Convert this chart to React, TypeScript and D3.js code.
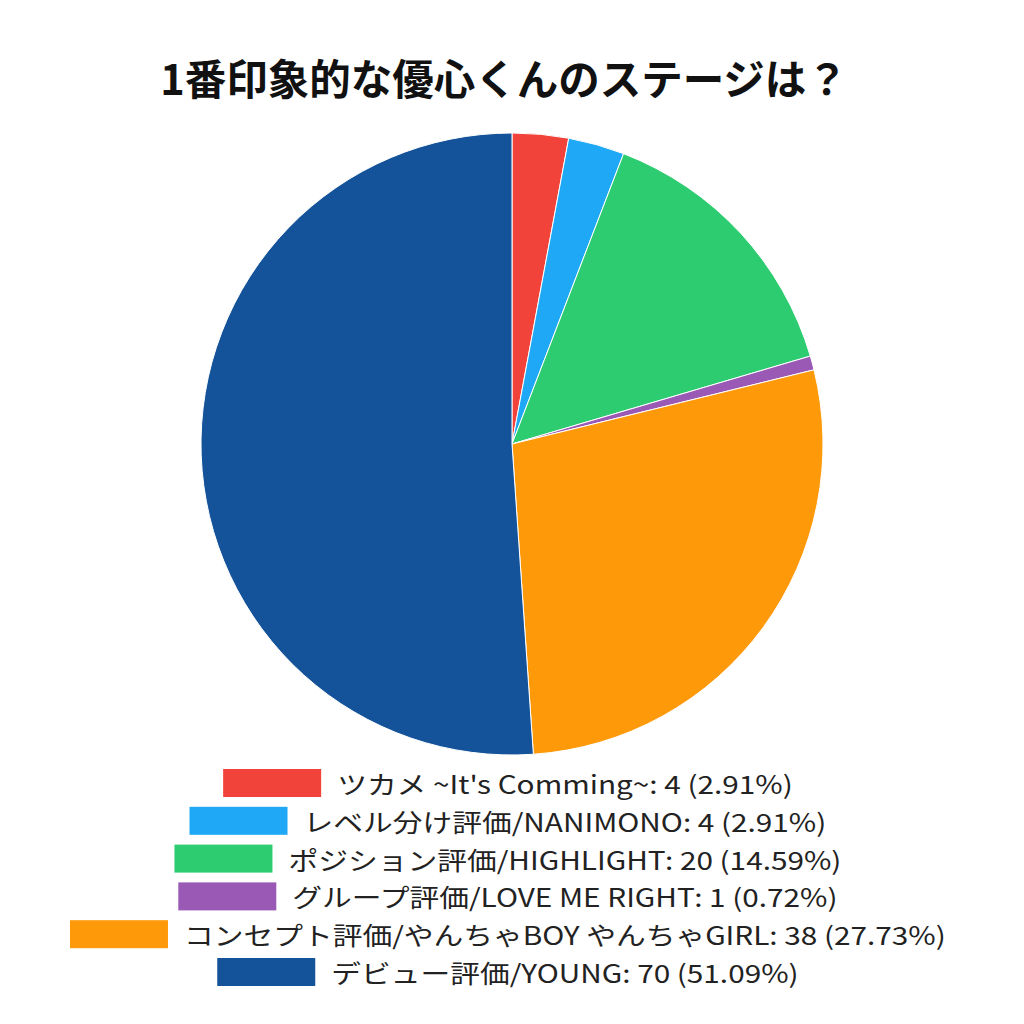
import React, { useRef, useEffect } from 'react';
import * as d3 from 'd3';

const categories = [
  'ツカメ ~It\'s Comming~',
  'レベル分け評価/NANIMONO',
  'ポジション評価/HIGHLIGHT',
  'グループ評価/LOVE ME RIGHT',
  'コンセプト評価/やんちゃBOY やんちゃGIRL',
  'デビュー評価/YOUNG',
];
const counts = [4, 4, 20, 1, 38, 70];
const percents = ['2.91%', '2.91%', '14.59%', '0.72%', '27.73%', '51.09%'];
const colors = ['#f2433a', '#1ea8f6', '#2ecc71', '#9b59b6', '#fe9a0a', '#14539a'];
const title = '1番印象的な優心くんのステージは？';

export default function App() {
  const svgRef = useRef<SVGSVGElement>(null);

  useEffect(() => {
    if (!svgRef.current) return;
    const svg = d3.select(svgRef.current);
    svg.selectAll('*').remove();

    const width = 1024;
    const cx = 512;
    const cy = 444;
    const radius = 311;
    const font = '"Noto Sans CJK JP", "Noto Sans", sans-serif';

    svg.append('rect').attr('width', width).attr('height', 1024).attr('fill', '#fff');

    // Title
    svg.append('text')
      .attr('x', 504)
      .attr('y', 95)
      .attr('text-anchor', 'middle')
      .style('font-family', font)
      .style('font-size', '41.5px')
      .style('font-weight', '700')
      .attr('fill', '#111')
      .text(title);

    // Pie, starting at 12 o'clock going clockwise
    const pie = d3.pie<number>().sort(null).value(d => d);
    const arc = d3.arc<d3.PieArcDatum<number>>().innerRadius(0).outerRadius(radius);

    svg.append('g')
      .attr('transform', `translate(${cx},${cy})`)
      .selectAll('path')
      .data(pie(counts))
      .enter()
      .append('path')
      .attr('d', arc)
      .attr('fill', (d, i) => colors[i])
      .attr('stroke', '#fff')
      .attr('stroke-width', 1);

    // Legend: each row centered under the pie
    const rowY = d3.scaleLinear().domain([0, categories.length - 1]).range([783, 972]);
    const boxW = 98;
    const boxH = 28;
    const gap = 16;
    const stretch = 1.19; // reference glyphs are wider than Noto's

    categories.forEach((cat, i) => {
      const g = svg.append('g');
      const label = g.append('text')
        .attr('dominant-baseline', 'central')
        .style('font-family', font)
        .style('font-size', '25px')
        .attr('fill', '#222')
        .text(`${cat}: ${counts[i]} (${percents[i]})`);
      const tw = (label.node() as SVGTextElement).getComputedTextLength() * stretch;
      const total = boxW + gap + tw;
      const x0 = 508 - total / 2;
      g.insert('rect', 'text')
        .attr('x', x0)
        .attr('y', rowY(i) - boxH / 2)
        .attr('width', boxW)
        .attr('height', boxH)
        .attr('fill', colors[i]);
      label.attr('transform', `translate(${x0 + boxW + gap},${rowY(i)}) scale(${stretch},1)`);
    });
  }, []);

  return (
    <div style={{ width: 1024, height: 1024, margin: -8 }}>
      <svg ref={svgRef} width={1024} height={1024} style={{ display: 'block' }} />
    </div>
  );
}
